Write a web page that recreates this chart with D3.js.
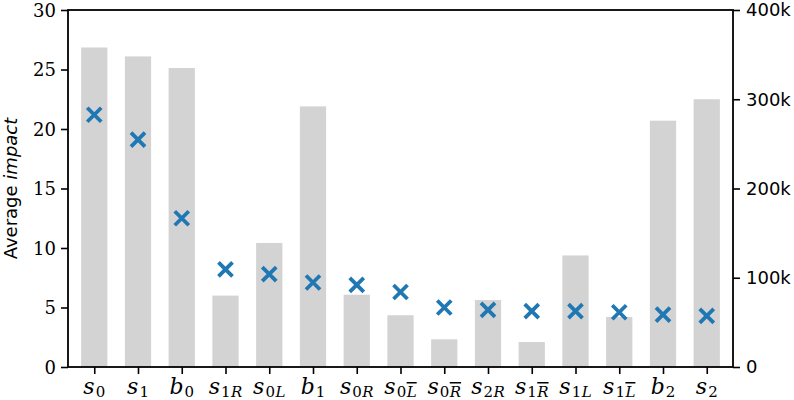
<!DOCTYPE html>
<html>
<head>
<meta charset="utf-8">
<script src="https://cdn.jsdelivr.net/npm/d3@7"></script>
<style>
  body { margin: 0; background: #fff; }
  svg { display: block; }
</style>
</head>
<body>
<div id="chart"></div>
<script>
//////////////////////////// data /////////////////////////////////////////

// label code: base letter, subscript digit, optional side letter, optional "bar"
const categories = ["s0", "s1", "b0", "s1R", "s0L", "b1", "s0R", "s0Lbar",
  "s0Rbar", "s2R", "s1Rbar", "s1L", "s1Lbar", "b2", "s2"];
// gray bars, right axis
const counts = [358000, 348000, 335000, 80000, 139000, 292000, 81000, 58000,
  31000, 75000, 28000, 125000, 56000, 276000, 300000];
// blue markers, left axis
const avgImpact = [21.2, 19.1, 12.5, 8.2, 7.8, 7.1, 6.9, 6.3,
  5.0, 4.8, 4.7, 4.7, 4.6, 4.4, 4.3];
const leftTicks = [0, 5, 10, 15, 20, 25, 30];
const rightTicks = [0, 100000, 200000, 300000, 400000];

//////////////////////////// sizes ///////////////////////////////////////

const width = 794, height = 400;
const margin = { top: 10, right: 61, bottom: 33, left: 68 };
const innerW = width - margin.left - margin.right;
const innerH = height - margin.top - margin.bottom;

const svg = d3.select("#chart").append("svg")
  .attr("width", width).attr("height", height);
const bounds = svg.append("g")
  .attr("transform", `translate(${margin.left},${margin.top})`);

//////////////////////////// scales ///////////////////////////////////////

const xScale = d3.scaleLinear().domain([-0.6, categories.length - 0.4]).range([0, innerW]);
const yLeft = d3.scaleLinear().domain([0, 30]).range([innerH, 0]);
const yRight = d3.scaleLinear().domain([0, 400000]).range([innerH, 0]);
const barW = xScale(0.6) - xScale(0);

//////////////////////////// bars ////////////////////////////////////////

bounds.selectAll(".bar")
  .data(counts)
  .join("rect")
  .attr("class", "bar")
  .attr("x", (d, i) => xScale(i) - barW / 2)
  .attr("y", d => yRight(d))
  .attr("width", barW)
  .attr("height", d => innerH - yRight(d))
  .attr("fill", "#d3d3d3");

//////////////////////////// markers /////////////////////////////////////

const ms = 7;
bounds.selectAll(".mark")
  .data(avgImpact)
  .join("path")
  .attr("class", "mark")
  .attr("d", (d, i) => {
    const x = xScale(i), y = yLeft(d);
    return `M${x - ms},${y - ms}L${x + ms},${y + ms}M${x - ms},${y + ms}L${x + ms},${y - ms}`;
  })
  .attr("stroke", "#1f77b4")
  .attr("stroke-width", 3.8)
  .attr("fill", "none");

//////////////////////////// axes ////////////////////////////////////////

const serif = "'DejaVu Serif', 'Liberation Serif', serif";

const leftAxis = d3.axisLeft(yLeft).tickValues(leftTicks).tickSize(7).tickPadding(5);
const rightAxis = d3.axisRight(yRight).tickValues(rightTicks).tickSize(7).tickPadding(6)
  .tickFormat(d => d === 0 ? "0" : d / 1000 + "k");
const bottomAxis = d3.axisBottom(xScale).tickValues(d3.range(categories.length))
  .tickSize(7).tickFormat("");

const gl = bounds.append("g").call(leftAxis);
gl.selectAll("text").attr("fill", "#000").attr("dy", "0.36em")
  .style("font-family", serif).style("font-size", "18px");

const gr = bounds.append("g").attr("transform", `translate(${innerW},0)`).call(rightAxis);
gr.selectAll("text").attr("fill", "#000")
  .style("font-family", "'DejaVu Sans', sans-serif").style("font-size", "18px");

const gb = bounds.append("g").attr("transform", `translate(0,${innerH})`).call(bottomAxis);

[gl, gr, gb].forEach(g => {
  g.select(".domain").remove();
  g.selectAll(".tick line").attr("stroke", "#000").attr("stroke-width", 1.6);
});

// box frame
bounds.append("rect")
  .attr("width", innerW).attr("height", innerH)
  .attr("fill", "none").attr("stroke", "#000").attr("stroke-width", 1.8);

//////////////////////////// x labels ////////////////////////////////////

categories.forEach((c, i) => {
  const base = c[0], digit = c[1];
  const side = c.length > 2 ? c[2] : null;
  const bar = c.endsWith("bar");
  const t = bounds.append("text")
    .attr("x", xScale(i))
    .attr("y", innerH + 27)
    .attr("text-anchor", "middle")
    .style("font-family", serif)
    .attr("fill", "#000");
  t.append("tspan").text(base).style("font-size", "22px").style("font-style", "italic");
  t.append("tspan").text(digit).style("font-size", "15px").attr("dy", 3).attr("dx", 1);
  if (side) {
    t.append("tspan").text(side).style("font-size", "15px").style("font-style", "italic")
      .attr("dx", 0.5)
      .style("text-decoration", bar ? "overline" : "none");
  }
});

//////////////////////////// y label /////////////////////////////////////

const yl = svg.append("text")
  .attr("transform", `translate(17,${margin.top + innerH / 2}) rotate(-90)`)
  .attr("text-anchor", "middle")
  .style("font-family", "'DejaVu Sans', sans-serif")
  .style("font-size", "18px")
  .attr("fill", "#000");
yl.append("tspan").text("Average ");
yl.append("tspan").text("impact").style("font-style", "italic");
</script>
</body>
</html>
